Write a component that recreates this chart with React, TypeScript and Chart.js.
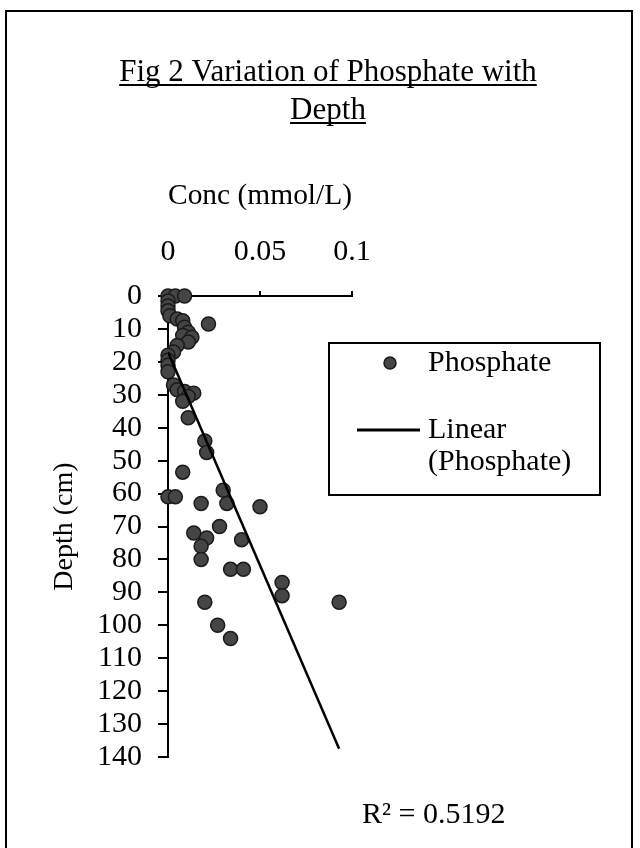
import React, { useEffect, useRef } from "react";
import { Chart, registerables } from "chart.js";

Chart.register(...registerables);

const TITLE_LINES = ["Fig 2 Variation of Phosphate with", "Depth"];
const X_TITLE = "Conc (mmol/L)";
const Y_TITLE = "Depth (cm)";
const SERIES_LABEL = "Phosphate";
const TREND_LABEL_LINES = ["Linear", "(Phosphate)"];
const R2_TEXT = "R² = 0.5192";

// Phosphate concentration (mmol/L) and depth (cm)
const concValues = [
  0.0, 0.004, 0.009, 0.0, 0.0, 0.0, 0.001, 0.005, 0.008, 0.022,
  0.009, 0.011, 0.008, 0.013, 0.011, 0.005, 0.003, 0.0, 0.0, 0.0,
  0.0, 0.003, 0.005, 0.009, 0.014, 0.011, 0.008, 0.011, 0.02, 0.021,
  0.008, 0.0, 0.004, 0.03, 0.018, 0.032, 0.05, 0.028, 0.014, 0.021,
  0.04, 0.018, 0.018, 0.034, 0.041, 0.062, 0.062, 0.02, 0.093, 0.027,
  0.034,
];
const depthValues = [
  0, 0, 0, 1.5, 3, 4.5, 6, 7, 7.5, 8.5,
  9.5, 11, 12, 12.5, 14, 15, 17, 18, 19.5, 21,
  23, 27, 28.5, 29, 29.5, 30.5, 32, 37, 44, 47.5,
  53.5, 61, 61, 59, 63, 63, 64, 70, 72, 73.5,
  74, 76, 80, 83, 83, 87, 91, 93, 93, 100,
  104,
];

// Linear trendline end points
const trendConc = [0, 0.093];
const trendDepth = [17, 137.5];

const xTicks = [0, 0.05, 0.1];
const yTicks = [0, 10, 20, 30, 40, 50, 60, 70, 80, 90, 100, 110, 120, 130, 140];

const FONT = "'Liberation Serif', 'Times New Roman', serif";
const POINT_FILL = "#454545";
const POINT_BORDER = "#1a1a1a";

const decorPlugin = {
  id: "decor",
  beforeDraw(chart: any) {
    const ctx = chart.ctx;
    ctx.save();
    ctx.fillStyle = "#ffffff";
    ctx.fillRect(0, 0, chart.width, chart.height);
    ctx.strokeStyle = "#000";
    ctx.lineWidth = 2;
    ctx.strokeRect(6, 11, 626, 860);
    ctx.restore();
  },
  afterDraw(chart: any) {
    const ctx = chart.ctx;
    ctx.save();
    ctx.fillStyle = "#000";
    ctx.strokeStyle = "#000";
    // Title with underline
    ctx.font = `31px ${FONT}`;
    ctx.textAlign = "center";
    ctx.textBaseline = "alphabetic";
    const titleX = 328;
    const baselines = [81, 119];
    TITLE_LINES.forEach((line, i) => {
      const w = ctx.measureText(line).width;
      ctx.fillText(line, titleX, baselines[i]);
      ctx.lineWidth = 2;
      ctx.beginPath();
      ctx.moveTo(titleX - w / 2, baselines[i] + 4);
      ctx.lineTo(titleX + w / 2, baselines[i] + 4);
      ctx.stroke();
    });

    // R squared label
    ctx.font = `30px ${FONT}`;
    ctx.textAlign = "left";
    ctx.textBaseline = "middle";
    ctx.fillText(R2_TEXT, 362, 815);

    // Legend
    const ds0 = chart.data.datasets[0];
    const ds1 = chart.data.datasets[1];
    ctx.lineWidth = 2;
    ctx.strokeRect(329, 343, 271, 152);
    ctx.beginPath();
    ctx.arc(390, 363, 6, 0, Math.PI * 2);
    ctx.fillStyle = ds0.backgroundColor;
    ctx.fill();
    ctx.lineWidth = 1.5;
    ctx.strokeStyle = ds0.borderColor;
    ctx.stroke();
    ctx.fillStyle = "#000";
    ctx.fillText(ds0.label, 428, 363);
    ctx.strokeStyle = ds1.borderColor;
    ctx.lineWidth = 3;
    ctx.beginPath();
    ctx.moveTo(357, 430);
    ctx.lineTo(420, 430);
    ctx.stroke();
    TREND_LABEL_LINES.forEach((t, i) => ctx.fillText(t, 428, 430 + i * 32));
    ctx.restore();
  },
};

export default function App() {
  const ref = useRef<HTMLCanvasElement | null>(null);

  useEffect(() => {
    if (!ref.current) return;
    const points = concValues.map((c, i) => ({ x: c, y: depthValues[i] }));
    const trend = trendConc.map((c, i) => ({ x: c, y: trendDepth[i] }));
    const chart = new Chart(ref.current, {
      type: "scatter",
      data: {
        datasets: [
          {
            label: SERIES_LABEL,
            data: points,
            backgroundColor: POINT_FILL,
            borderColor: POINT_BORDER,
            borderWidth: 1.5,
            pointRadius: 7,
            clip: false,
            order: 1,
          } as any,
          {
            label: TREND_LABEL_LINES.join(" "),
            data: trend,
            showLine: true,
            borderColor: "#000",
            backgroundColor: "#000",
            borderWidth: 2.5,
            pointRadius: 0,
            order: 0,
          } as any,
        ],
      },
      options: {
        animation: false,
        responsive: false,
        devicePixelRatio: 1,
        layout: { padding: { left: 0, top: 0, right: 288, bottom: 91 } },
        plugins: {
          legend: { display: false },
          tooltip: { enabled: false },
        },
        scales: {
          x: {
            type: "linear",
            position: "top",
            min: xTicks[0],
            max: xTicks[xTicks.length - 1],
            afterBuildTicks: (scale: any) => {
              scale.ticks = xTicks.map((v) => ({ value: v }));
            },
            afterFit: (scale: any) => {
              scale.height = 296;
            },
            ticks: {
              color: "#000",
              font: { family: FONT, size: 30 },
              padding: 21,
              maxRotation: 0,
              autoSkip: false,
              callback: (v: any) => String(v),
            },
            grid: { drawOnChartArea: false, drawTicks: true, tickLength: 5, color: "#000", lineWidth: 2 },
            border: { display: true, color: "#000", width: 2 },
            title: {
              display: true,
              text: X_TITLE,
              color: "#000",
              font: { family: FONT, size: 30 },
              padding: { top: 178, bottom: 0 },
            },
          },
          y: {
            type: "linear",
            reverse: true,
            min: yTicks[0],
            max: yTicks[yTicks.length - 1],
            afterBuildTicks: (scale: any) => {
              scale.ticks = yTicks.map((v) => ({ value: v }));
            },
            afterFit: (scale: any) => {
              scale.width = 168;
            },
            ticks: {
              color: "#000",
              font: { family: FONT, size: 30 },
              padding: 16,
              autoSkip: false,
              callback: (v: any) => String(v),
            },
            grid: { drawOnChartArea: false, drawTicks: true, tickLength: 10, color: "#000", lineWidth: 2 },
            border: { display: true, color: "#000", width: 2 },
            title: {
              display: true,
              text: Y_TITLE,
              color: "#000",
              font: { family: FONT, size: 28 },
              padding: { top: 48, bottom: 0 },
            },
          },
        },
      },
      plugins: [decorPlugin],
    } as any);
    return () => chart.destroy();
  }, []);

  return (
    <div style={{ position: "absolute", left: 0, top: 0, width: 640, height: 848 }}>
      <canvas ref={ref} width={640} height={848} style={{ display: "block" }} />
    </div>
  );
}
